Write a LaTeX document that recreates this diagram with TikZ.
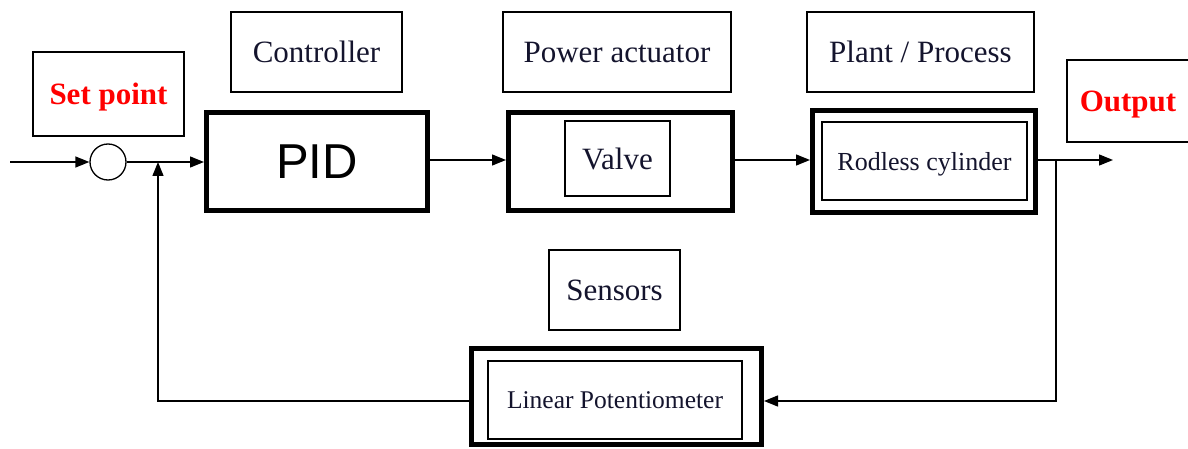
\documentclass[tikz,border=0pt]{standalone}
\usepackage{fontspec}
\setmainfont{Liberation Serif}
\newfontfamily\pidfont{Liberation Sans}
\usetikzlibrary{arrows.meta}
\definecolor{txt}{RGB}{20,20,45}
\definecolor{redtxt}{RGB}{255,0,0}
\tikzset{
  lbl/.style={draw, line width=1.3pt, inner sep=0pt, text=txt, text depth=0pt, font=\fontsize{31}{36}\selectfont},
  redlbl/.style={lbl, text=redtxt, font=\fontsize{31}{36}\selectfont\bfseries},
  thickbox/.style={draw, line width=5pt, inner sep=0pt, text depth=0pt},
  innerbox/.style={draw, line width=1.3pt, inner sep=0pt, text=txt, text depth=0pt},
  conn/.style={line width=1.3pt},
  arr/.style={conn, -{Triangle[length=14pt,width=11pt]}}
}
\begin{document}
\begin{tikzpicture}[x=1pt,y=-1pt]
\useasboundingbox (0,0) rectangle (1188,449);
% label boxes
\node[redlbl, minimum width=151pt, minimum height=84pt] (sp) at (108.5,94) {Set point};
\node[lbl, minimum width=171pt, minimum height=80pt] (ctl) at (316.5,52) {Controller};
\node[lbl, minimum width=228pt, minimum height=80pt] (pa) at (617,52) {Power actuator};
\node[lbl, minimum width=227pt, minimum height=80pt] (pp) at (920.5,52) {Plant / Process};
\node[redlbl, minimum width=140pt, minimum height=82pt] (outl) at (1137,101) {\hspace*{-18pt}Output};
\node[lbl, minimum width=131pt, minimum height=80pt] (sen) at (614.5,290) {Sensors};
% summing junction
\node[draw, line width=1.3pt, circle, minimum size=36pt, inner sep=0pt] (sum) at (108,162) {};
% main blocks
\node[thickbox, minimum width=221pt, minimum height=98pt, font=\pidfont\fontsize{49}{56}\selectfont] (pid) at (317,161.5) {PID};
\node[thickbox, minimum width=224pt, minimum height=98pt] (valve) at (620.5,161.5) {};
\node[innerbox, minimum width=105pt, minimum height=75pt, font=\fontsize{31}{36}\selectfont] (valvein) at (617.5,158.5) {Valve};
\node[thickbox, minimum width=223pt, minimum height=102pt] (rod) at (924,161.5) {};
\node[innerbox, minimum width=205pt, minimum height=78pt, font=\fontsize{26}{30}\selectfont] (rodin) at (924.5,161) {Rodless cylinder};
\node[thickbox, minimum width=290pt, minimum height=96pt] (lin) at (616.5,396.5) {};
\node[innerbox, minimum width=254pt, minimum height=78pt, font=\fontsize{25.5}{30}\selectfont] (linin) at (615,400) {Linear Potentiometer};
% connector end points
\coordinate (in) at (10,162);
\coordinate (out) at (1113,160);
\coordinate (br) at (1056,160);
\coordinate (fb) at (158,162);
% connectors
\draw[arr] (in) -- (sum.west);
\draw[arr] (sum.east) -- (pid.west |- sum.east);
\draw[arr] (pid.east |- 0,160) -- (valve.west |- 0,160);
\draw[arr] (valve.east |- 0,160) -- (rod.west |- 0,160);
\draw[arr] (rod.east |- out) -- (out);
\draw[arr] (br) |- (lin.east |- 0,401);
\draw[arr] (lin.west |- 0,401) -| (fb);
\end{tikzpicture}
\end{document}
